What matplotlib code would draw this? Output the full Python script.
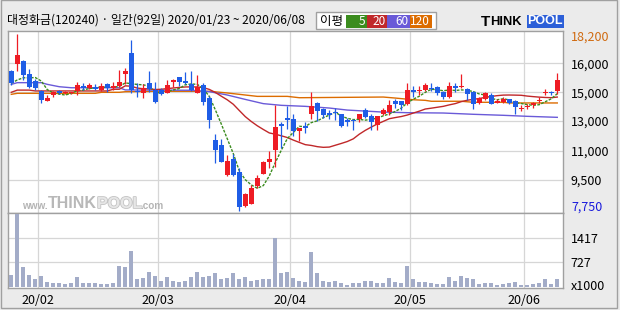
import numpy as np
import pandas as pd
import matplotlib.pyplot as plt
from matplotlib.patches import Rectangle
import matplotlib.patheffects as pe

plt.rcParams['font.family'] = ['Noto Sans CJK KR', 'DejaVu Sans']

title = '대정화금(120240) · 일간(92일) 2020/01/23 ~ 2020/06/08'
month_labels = ['20/02', '20/03', '20/04', '20/05', '20/06']
month_starts = [5, 25, 47, 67, 86]  # first trading day of each month

opens = [16030, 16460, 16620, 15830, 15440, 14850, 14280, 14590, 14850, 14730,
         14730, 14850, 15120, 15040, 15100, 14930, 15280, 15000, 15140, 15870,
         17090, 14850, 14750, 15300, 14930, 14910, 14750, 15360, 15650, 15440,
         15280, 14750, 15200, 14450, 11950, 11650, 9860, 10850, 10080, 8050,
         8180, 9210, 9960, 10650, 11380, 12880, 13250, 13190, 12500, 12780,
         13510, 14160, 13760, 13570, 13590, 13470, 13150, 13150, 13210, 13700,
         13350, 12860, 13470, 13620, 14260, 14260, 14060, 14910, 14850, 14910,
         15040, 15080, 14790, 14510, 15140, 15080, 14970, 14790, 14160, 14390,
         14590, 14160, 14220, 14370, 14260, 13800, 13900, 14020, 14240, 14730,
         14770, 14850]
highs = [16070, 18200, 16700, 16150, 15580, 14930, 14590, 14850, 14930, 14830,
         14810, 15380, 15340, 15340, 15240, 15320, 15300, 15400, 16070, 16190,
         17860, 15340, 15280, 16030, 15360, 15040, 15480, 15540, 15690, 15990,
         16030, 15810, 15340, 14550, 12280, 11990, 11060, 11100, 10310, 8830,
         9270, 9880, 10710, 11300, 14020, 13030, 13960, 13470, 12680, 13010,
         14790, 14200, 13860, 13700, 13820, 13510, 13230, 13210, 13490, 13840,
         13490, 13390, 13860, 14300, 14390, 14260, 15320, 15140, 15140, 15340,
         15340, 15140, 14850, 15380, 15340, 15830, 15000, 14830, 14510, 14790,
         14730, 14350, 14490, 14370, 14310, 14020, 14080, 14220, 14490, 14950,
         14870, 15910]
lows = [15200, 16030, 15480, 15000, 14930, 14160, 14260, 14510, 14650, 14650,
        14690, 14590, 14930, 14950, 14890, 14850, 14810, 14930, 15100, 15240,
        14750, 14510, 14450, 14810, 14160, 14590, 14710, 15100, 15140, 15240,
        14850, 14710, 14020, 12680, 10610, 10650, 9840, 9820, 7750, 7990,
        8140, 9130, 9920, 10310, 10350, 11500, 12620, 12190, 11890, 12380,
        13170, 13070, 13270, 13170, 13110, 12740, 12800, 12560, 13030, 13250,
        12520, 12540, 13430, 13430, 13820, 13720, 14020, 14490, 14610, 14850,
        14850, 14590, 14350, 14450, 14810, 15000, 14310, 13800, 14060, 14310,
        14060, 14120, 14140, 14060, 13470, 13660, 13800, 13860, 14120, 14590,
        14590, 14650]
closes = [15340, 16980, 15770, 15080, 15040, 14310, 14430, 14790, 14730, 14790,
          14790, 15200, 15000, 15200, 14970, 15120, 15000, 15120, 15360, 16030,
          14890, 14770, 15000, 14970, 14220, 14650, 15200, 15500, 15400, 15320,
          14890, 15100, 14220, 13110, 11380, 10670, 10710, 9860, 7990, 8780,
          9130, 9720, 10650, 10850, 12720, 12780, 13150, 12480, 12660, 12640,
          13960, 13660, 13430, 13410, 13530, 12800, 12990, 13050, 13470, 13310,
          13030, 13370, 13720, 14020, 14060, 14020, 14910, 14810, 14890, 15200,
          14950, 14750, 14510, 15140, 15040, 15120, 14650, 14100, 14450, 14730,
          14100, 14280, 14370, 14120, 13920, 13840, 13960, 14160, 14310, 14790,
          14710, 15480]
volumes = [346, 2102, 576, 346, 230, 317, 144, 115, 115, 96,
           115, 288, 115, 115, 115, 96, 96, 115, 605, 576,
           1037, 230, 259, 432, 317, 173, 288, 173, 154, 173,
           288, 432, 288, 317, 403, 230, 259, 403, 230, 288,
           173, 202, 230, 230, 1411, 403, 432, 259, 173, 144,
           1008, 403, 173, 154, 163, 125, 58, 115, 125, 163,
           173, 115, 115, 259, 144, 115, 605, 230, 144, 144,
           115, 96, 96, 288, 173, 317, 259, 230, 96, 115,
           115, 58, 96, 115, 144, 58, 58, 86, 115, 230,
           96, 230]  # x1000

# moving averages: the first days need data from before the window
ma5_head = [15300, 15500, 15630, 15630]
ma20_head = [14770, 14900, 14900, 14900] + [14850] * 13 + [14950, 14950]
ma60_idx = [0, 1, 5, 6, 8, 10, 18, 19, 30, 33, 36, 39, 42, 45, 49, 53, 56, 59, 62, 66, 72,
            77, 82, 86, 91]
ma60_val = [15240, 15340, 15340, 15240, 15100, 15040, 15040, 14910, 14890, 14810, 14610, 14350,
            14100, 14000, 13940, 13840, 13720, 13660, 13600, 13565, 13545, 13470, 13410, 13350,
            13290]
ma120_idx = [0, 1, 14, 15, 18, 19, 24, 33, 36, 41, 46, 48, 62, 64, 67, 69, 70, 75, 77, 82,
             83, 91]
ma120_val = [14650, 14710, 14710, 14770, 14770, 14805, 14830, 14830, 14730, 14530, 14530, 14450,
             14490, 14430, 14330, 14295, 14240, 14240, 14180, 14180, 14140, 14140]

price_ticks = [16480, 14770, 13070, 11300, 9580]
price_tick_labels = ['16,000', '15,000', '13,000', '11,000', '9,500']
vol_ticks = [727, 1417]

RED, BLUE = '#ee1c24', '#1f5de6'
C5, C20, C60, C120 = '#3b8c1e', '#c0282a', '#6a5ad8', '#dc6c00'
GRID = '#d6d6d6'
EDGE = '#a0a0a0'

W, H = 620, 310
def rect(x0, y0, x1, y1):
    return [x0 / W, 1 - y1 / H, (x1 - x0) / W, (y1 - y0) / H]
def fpos(x, y):
    return x / W, 1 - y / H

fig = plt.figure(figsize=(W / 100, H / 100), dpi=100)
fig.patch.set_facecolor('#ebebeb')
fig.add_artist(Rectangle(fpos(1, 308), 616 / W, 308 / H, transform=fig.transFigure,
                         fill=False, ec=EDGE, lw=1))

ax = fig.add_axes(rect(8, 31, 562.5, 212.7))
axv = fig.add_axes(rect(8, 212.7, 562.5, 288.3), sharex=ax)

o = np.array(opens); h = np.array(highs); l = np.array(lows); c = np.array(closes)
x = np.arange(len(c))
cols = np.where(c >= o, RED, BLUE)

cs = pd.Series(closes, dtype=float)
ma5 = cs.rolling(5).mean().to_numpy()
ma5[:4] = ma5_head
ma20 = cs.rolling(20).mean().to_numpy()
ma20[:19] = ma20_head

ax.plot(ma120_idx, ma120_val, color=C120, lw=1, zorder=2)
ax.plot(ma60_idx, ma60_val, color=C60, lw=1, zorder=2)
ax.plot(x, ma20, color=C20, lw=1, zorder=2)
ax.plot(x, ma5, color=C5, lw=1, ls=(0, (2, 1)), zorder=2)

ax.vlines(x, l, h, colors=cols, lw=0.9, zorder=3)
ax.bar(x, np.maximum(np.abs(c - o), 60), 0.75, bottom=np.minimum(o, c), color=cols,
       linewidth=0, zorder=4)

axv.bar(x, volumes, 0.72, color='#a3acc8', linewidth=0, zorder=3)

ax.set_xlim(-0.55, 91.87)
ax.set_ylim(7651, 18395)
axv.set_ylim(-37, 2140)

for a in (ax, axv):
    a.set_xticks([m - 0.5 for m in month_starts])
    a.grid(True, color=GRID, lw=0.9)
    a.set_axisbelow(True)
    for s in a.spines.values():
        s.set_color(EDGE)
        s.set_linewidth(1)
    a.yaxis.tick_right()
    a.tick_params(length=0, labelsize=9)
ax.tick_params(labelbottom=False, pad=6)
axv.set_xticklabels(month_labels)
axv.tick_params(axis='x', pad=4)
axv.tick_params(axis='y', pad=6)

ax.set_yticks(price_ticks, price_tick_labels)
axv.set_yticks(vol_ticks, [str(v) for v in vol_ticks])
ax.text(1 + 8.5 / 554.5, 0.967, f'{max(highs):,}', transform=ax.transAxes,
        color='#d06a10', fontsize=9, va='center')
ax.text(1 + 8.5 / 554.5, 0.031, f'{min(lows):,}', transform=ax.transAxes,
        color='#1a1adc', fontsize=9, va='center')
axv.text(1 + 8.5 / 554.5, 0.03, 'x1000', transform=axv.transAxes, fontsize=9, va='center')

# title
fig.text(*fpos(7, 20), title, fontsize=8.6, va='center', ha='left')

# legend box
fig.add_artist(Rectangle(fpos(315.7, 29.3), 120 / W, 17 / H, transform=fig.transFigure,
                         fc='white', ec=EDGE, lw=1))
fig.text(*fpos(320, 21), '이평', fontsize=9, va='center', ha='left')
for (x0, x1), col, lab in zip([(346, 366.7), (366.7, 387.3), (387.3, 410), (410, 431.7)],
                              [C5, C20, C60, C120], ['5', '20', '60', '120']):
    fig.add_artist(Rectangle(fpos(x0, 27.7), (x1 - x0) / W, 12.7 / H,
                             transform=fig.transFigure, fc=col, ec='none'))
    fig.text(*fpos(x1 - 1.5, 21.3), lab, fontsize=8.5, color='white', va='center', ha='right')

# logo
fig.text(*fpos(481, 21.5), 'T', fontsize=11, weight='bold', va='center', ha='left',
         family='Liberation Sans')
fig.text(*fpos(489.8, 22.2), 'HINK', fontsize=9.3, weight='bold', va='center', ha='left',
         family='Liberation Sans')
fig.add_artist(Rectangle(fpos(526.7, 28), 37.3 / W, 13 / H, transform=fig.transFigure,
                         fc='#2c5fd8', ec='none'))
fig.text(*fpos(545.3, 21.5), 'POOL', fontsize=9, weight='bold', color='white',
         va='center', ha='center', family='Liberation Sans')

# watermark
wm = dict(va='center', weight='bold', family='Liberation Sans')
fig.text(*fpos(22, 206), 'www.', fontsize=7.2, color='#b4b4b4', **wm)
fig.text(*fpos(48, 203.5), 'THINK', fontsize=11.5, color='#b8b8b8', **wm)
fig.text(*fpos(97, 203.5), 'POOL', fontsize=11.5, color='#e6e6e6',
         path_effects=[pe.withStroke(linewidth=1.2, foreground='#c4c4c4')], **wm)
fig.text(*fpos(140, 206), '.com', fontsize=7.2, color='#b4b4b4', **wm)

fig.savefig('out.png', dpi=100, facecolor=fig.get_facecolor())
